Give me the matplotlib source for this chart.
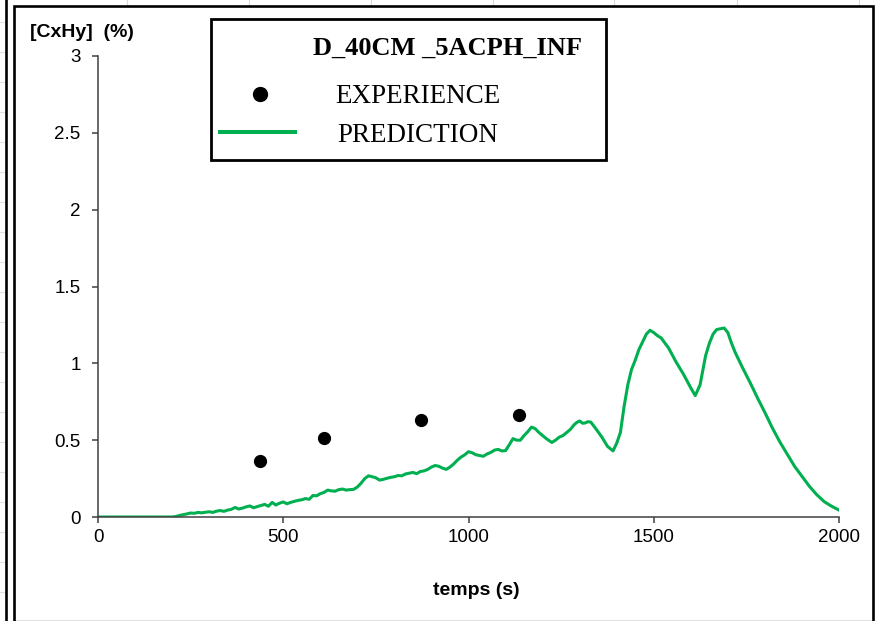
import numpy as np
import matplotlib
matplotlib.use('Agg')
import matplotlib.pyplot as plt
from matplotlib.patches import Rectangle
from matplotlib.lines import Line2D

plt.rcParams.update({'font.family': ['Liberation Sans', 'DejaVu Sans']})

# --- data ---
exp_t = [437, 610, 872, 1136]
exp_c = [0.364, 0.514, 0.631, 0.664]

pred_t = [0, 100, 200, 210, 220, 230, 240, 250, 260, 270, 280, 290, 300, 310, 320, 330,
          340, 350, 360, 370, 380, 390, 400, 410, 420, 430, 440, 450, 460, 470, 480,
          490, 500, 510, 520, 530, 540, 550, 560, 570, 580, 590, 600, 610, 620, 630,
          640, 650, 660, 670, 680, 690, 700, 710, 720, 730, 740, 750, 760, 770, 780,
          790, 800, 810, 820, 830, 840, 850, 860, 870, 880, 890, 900, 910, 920, 930,
          940, 950, 960, 970, 980, 990, 1000, 1010, 1020, 1030, 1040, 1050, 1060, 1070,
          1080, 1090, 1100, 1110, 1120, 1130, 1140, 1150, 1160, 1170, 1180, 1190, 1200,
          1210, 1225, 1235, 1245, 1255, 1265, 1275, 1285, 1292, 1300, 1308, 1315, 1322,
          1330, 1345, 1360, 1375, 1390, 1400, 1410, 1420, 1430,
          1440, 1450, 1460, 1470, 1480, 1490, 1500, 1510, 1520, 1540, 1560, 1580, 1600,
          1612, 1625, 1640, 1650, 1660, 1670, 1680, 1690, 1700, 1710, 1720, 1740, 1760,
          1780, 1800, 1820, 1840, 1860, 1880, 1900, 1920, 1940, 1960, 1980, 2000]
pred_c = [0, 0, 0, 0.003, 0.01, 0.015, 0.02, 0.026, 0.024, 0.03, 0.027, 0.031, 0.034, 0.03, 0.038, 0.042,
          0.037, 0.045, 0.05, 0.062, 0.052, 0.058, 0.066, 0.072, 0.06, 0.068, 0.075, 0.082, 0.07, 0.095, 0.078,
          0.09, 0.098, 0.086, 0.095, 0.102, 0.108, 0.112, 0.12, 0.115, 0.14, 0.138, 0.152, 0.16, 0.175, 0.17,
          0.168, 0.178, 0.182, 0.175, 0.178, 0.18, 0.195, 0.22, 0.25, 0.268, 0.262, 0.255, 0.24, 0.245, 0.252,
          0.258, 0.262, 0.27, 0.268, 0.28, 0.285, 0.29, 0.282, 0.296, 0.3, 0.31, 0.325, 0.335, 0.33, 0.318,
          0.31, 0.325, 0.345, 0.37, 0.39, 0.405, 0.425, 0.418, 0.405, 0.4, 0.395, 0.41, 0.42, 0.435,
          0.44, 0.43, 0.432, 0.47, 0.51, 0.5, 0.5, 0.53, 0.555, 0.585, 0.575, 0.55, 0.53,
          0.51, 0.485, 0.5, 0.52, 0.53, 0.55, 0.57, 0.6, 0.615, 0.625, 0.61, 0.612, 0.62,
          0.618, 0.57, 0.52, 0.46, 0.43, 0.48, 0.55, 0.72, 0.86,
          0.96, 1.02, 1.09, 1.14, 1.19, 1.215, 1.2, 1.18, 1.165, 1.1, 1.01, 0.93, 0.84,
          0.79, 0.86, 1.05, 1.13, 1.19, 1.22, 1.225, 1.23, 1.2, 1.13, 1.07, 0.97, 0.875,
          0.775, 0.68, 0.58, 0.49, 0.41, 0.33, 0.265, 0.2, 0.145, 0.1, 0.07, 0.045]

x_ticks = [0, 500, 1000, 1500, 2000]
y_ticks = [0, 0.5, 1, 1.5, 2, 2.5, 3]
y_tick_labels = ['0', '0.5', '1', '1.5', '2', '2.5', '3']

legend_title = 'D_40CM _5ACPH_INF'
label_exp = 'EXPERIENCE'
label_pred = 'PREDICTION'
green = '#00B050'

W, H = 876, 621
fig = plt.figure(figsize=(W / 100, H / 100), dpi=100)


def fx(x):
    return x / W


def fy(y):
    return 1 - y / H


# plot area (pixel bounds)
ax = fig.add_axes([fx(98), fy(517), fx(839) - fx(98), fy(56) - fy(517)])
ax.plot(pred_t, pred_c, color=green, lw=2.2, solid_joinstyle='round', zorder=2)
ax.plot(exp_t, exp_c, 'o', color='black', ms=8.5, zorder=3)

ax.set_xlim(0, 2000)
ax.set_ylim(0, 3)
ax.set_xticks(x_ticks)
ax.set_yticks(y_ticks)
ax.set_yticklabels(y_tick_labels)
for s in ['top', 'right']:
    ax.spines[s].set_visible(False)
for s in ['left', 'bottom']:
    ax.spines[s].set_color('#404040')
    ax.spines[s].set_linewidth(1.1)
ax.tick_params(axis='both', direction='out', length=4.5, width=1.1, color='#404040',
               labelsize=13.5, labelcolor='black')
ax.tick_params(axis='y', pad=8)
ax.tick_params(axis='x', pad=4)

# axis titles (placed like the spreadsheet chart)
fig.text(fx(30), fy(37), '[CxHy]  (%)', fontsize=14, fontweight='bold',
         ha='left', va='baseline')
fig.text(fx(476), fy(595), 'temps (s)', fontsize=14, fontweight='bold',
         ha='center', va='baseline')

# legend box drawn by hand to match the reference
fig.add_artist(Rectangle((fx(210.5), fy(160)), fx(605.5) - fx(210.5), fy(18.5) - fy(160),
                         transform=fig.transFigure, fill=False, ec='black', lw=2.0, zorder=5))
fig.text(fx(313), fy(55), legend_title, family='Liberation Serif', fontsize=19,
         fontweight='bold', ha='left', va='baseline')
fig.add_artist(Line2D([fx(260)], [fy(94.3)], marker='o', color='black', ms=10,
                      transform=fig.transFigure))
fig.text(fx(335), fy(102.7), label_exp, family='Liberation Serif', fontsize=19.5,
         ha='left', va='baseline')
fig.add_artist(Line2D([fx(220), fx(295)], [fy(132.3), fy(132.3)], color=green, lw=2.9,
                      transform=fig.transFigure))
fig.text(fx(337), fy(141.7), label_pred, family='Liberation Serif', fontsize=19.5,
         ha='left', va='baseline')

# surrounding spreadsheet: faint cell lines and chart frames
for gx in [127, 249, 371, 493, 614, 737, 859]:
    fig.add_artist(Line2D([fx(gx), fx(gx)], [fy(0), fy(5)], color='#d9d9d9', lw=0.8,
                          transform=fig.transFigure))
for gy in range(22, 600, 30):
    fig.add_artist(Line2D([fx(0), fx(4)], [fy(gy), fy(gy)], color='#e0e0e0', lw=0.8,
                          transform=fig.transFigure))
fig.add_artist(Line2D([fx(15), fx(871)], [fy(619.5), fy(619.5)], color='#e3e3e3', lw=0.8,
                      transform=fig.transFigure))
fig.add_artist(Line2D([fx(5.5), fx(5.5)], [fy(0), fy(H + 5)], color='black', lw=1.9,
                      transform=fig.transFigure))
fig.add_artist(Line2D([fx(14), fx(14), fx(873), fx(873)],
                      [fy(H + 5), fy(6), fy(6), fy(H + 5)], color='black', lw=1.9,
                      solid_joinstyle='miter', transform=fig.transFigure))

fig.savefig('out.png', dpi=100)
